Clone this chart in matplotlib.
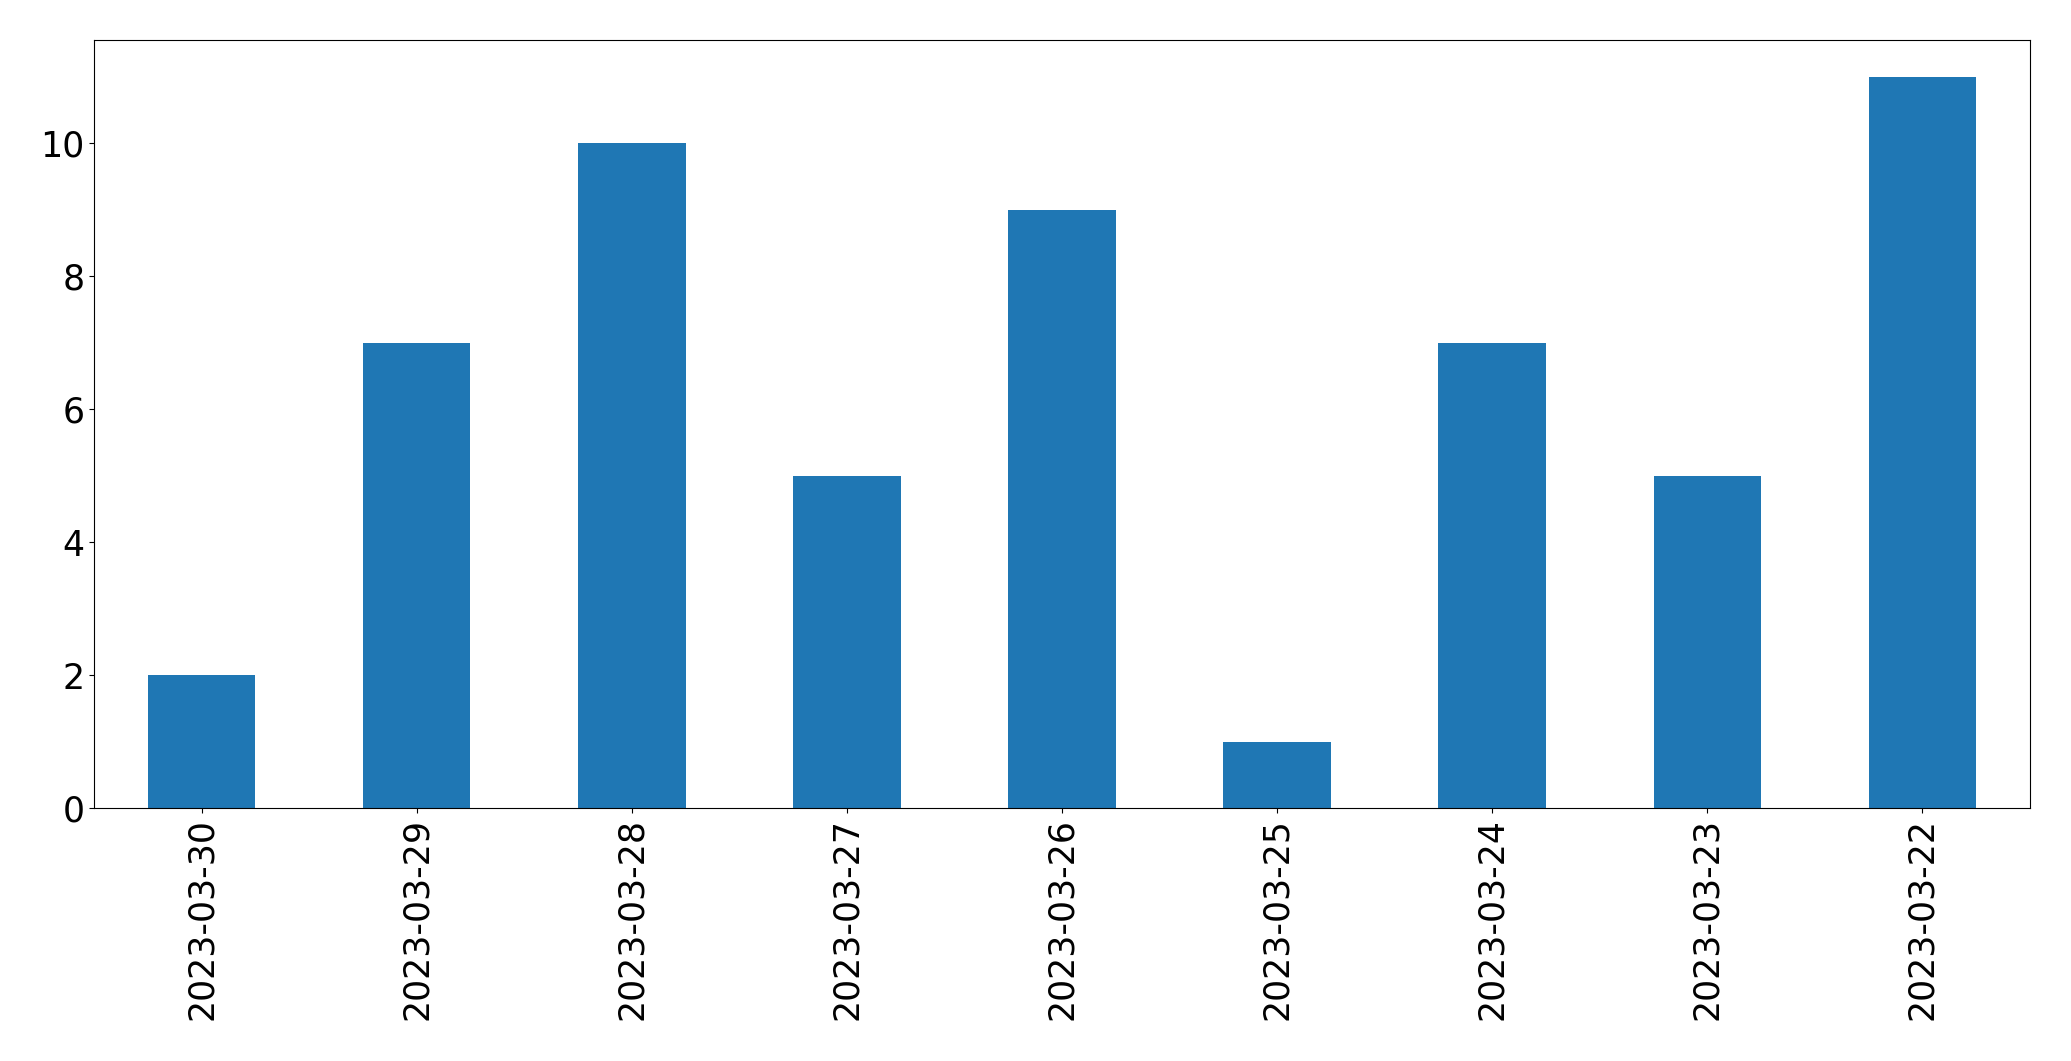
import matplotlib
matplotlib.use("Agg")
import matplotlib.pyplot as plt
import pandas as pd

# Counts per date
dates = ["2023-03-30", "2023-03-29", "2023-03-28", "2023-03-27", "2023-03-26",
         "2023-03-25", "2023-03-24", "2023-03-23", "2023-03-22"]
counts = [2, 7, 10, 5, 9, 1, 7, 5, 11]

s = pd.Series(counts, index=dates)

fig = plt.figure(figsize=(20.71, 10.61), dpi=100)
ax = fig.add_axes([94 / 2071, 1 - 808 / 1061, (2030 - 94) / 2071, (808 - 40) / 1061])
s.plot(kind="bar", ax=ax, color="#1f77b4")
ax.tick_params(axis="both", labelsize=25)
ax.tick_params(axis="x", rotation=90)

fig.savefig("out.png")
